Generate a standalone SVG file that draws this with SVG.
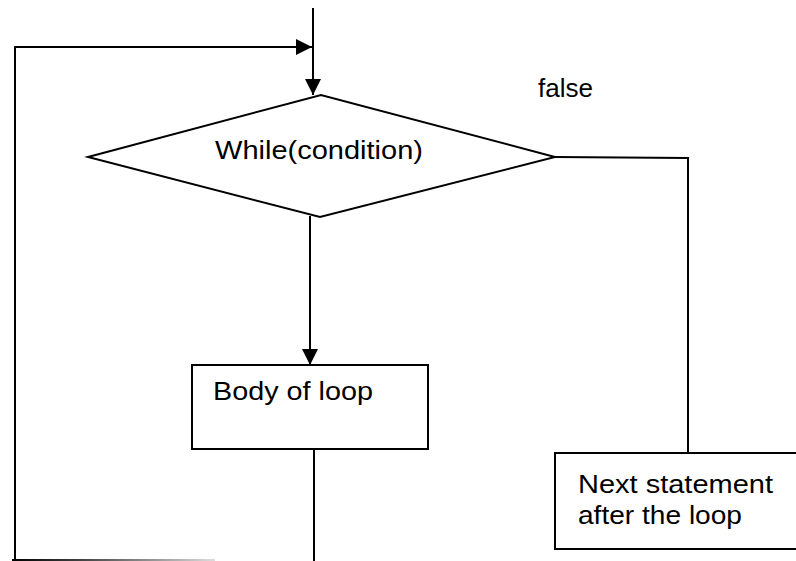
<svg xmlns="http://www.w3.org/2000/svg" width="796" height="561" viewBox="0 0 796 561">
<style>
.shape{fill:#fff;stroke:#000;stroke-width:2}
.line{fill:none;stroke:#000;stroke-width:2}
text{font-family:"Liberation Sans",Arial,sans-serif;font-size:26px;fill:#000}
</style>
<defs>
<marker id="ah" viewBox="0 0 16 16" refX="16" refY="8" markerWidth="16" markerHeight="16" markerUnits="userSpaceOnUse" orient="auto">
<path d="M0,0 L16,8 L0,16 Z" fill="#000"/>
</marker>
<linearGradient id="fade" x1="12" y1="0" x2="215" y2="0" gradientUnits="userSpaceOnUse">
<stop offset="0" stop-color="#000"/>
<stop offset="0.35" stop-color="#444"/>
<stop offset="1" stop-color="#ddd"/>
</linearGradient>
</defs>
<g id="connectors">
<line class="line" x1="313" y1="8" x2="313" y2="95" marker-end="url(#ah)"/>
<polyline class="line" points="15,561 15,47 312,47" marker-end="url(#ah)"/>
<line class="line" x1="310" y1="216" x2="310" y2="365" marker-end="url(#ah)"/>
<polyline class="line" points="555,157 688,158 688,453"/>
<line class="line" x1="314" y1="449" x2="314" y2="561"/>
<line x1="12" y1="560" x2="215" y2="560" stroke="url(#fade)" stroke-width="2"/>
<text x="538" y="97" textLength="55" lengthAdjust="spacingAndGlyphs">false</text>
</g>
<g id="condition">
<polygon class="shape" points="88,157 321,95 555,157 320,217"/>
<text x="215" y="159" textLength="208" lengthAdjust="spacingAndGlyphs">While(condition)</text>
</g>
<g id="body">
<rect class="shape" x="192" y="365" width="236" height="84"/>
<text x="213" y="400" textLength="160" lengthAdjust="spacingAndGlyphs">Body of loop</text>
</g>
<g id="next">
<rect class="shape" x="555" y="453" width="245" height="96"/>
<text x="578" y="493" textLength="195" lengthAdjust="spacingAndGlyphs">Next statement</text>
<text x="578" y="524" textLength="164" lengthAdjust="spacingAndGlyphs">after the loop</text>
</g>
</svg>
